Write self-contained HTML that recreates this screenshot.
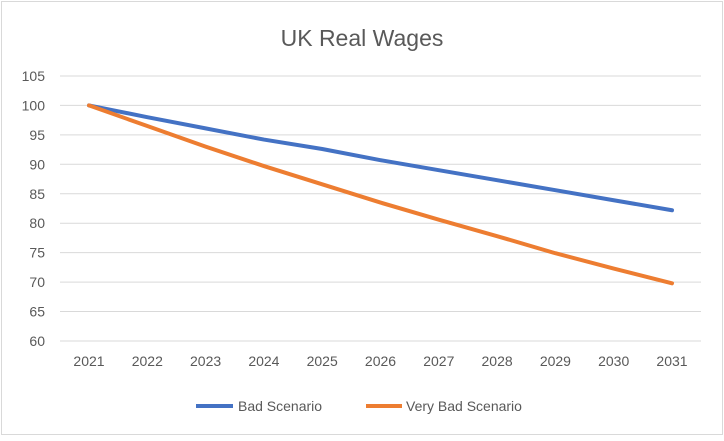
<!DOCTYPE html>
<html><head><meta charset="utf-8"><style>
body{margin:0;background:#fff;}
svg text{font-family:"Liberation Sans",sans-serif;fill:#595959;}
</style></head><body>
<svg id="chart" width="724" height="436" xmlns="http://www.w3.org/2000/svg">
<rect x="1.5" y="1.5" width="721" height="433" fill="#fff" stroke="#d9d9d9"/>
<text x="362" y="46" font-size="23" text-anchor="middle">UK Real Wages</text>
<g id="grid"></g><g id="yticks"></g><g id="xticks"></g><g id="series"></g>
<g>
<line x1="196" y1="406" x2="233" y2="406" stroke="#4472C4" stroke-width="4"/>
<text x="238" y="411" font-size="14">Bad Scenario</text>
<line x1="366" y1="406" x2="402" y2="406" stroke="#ED7D31" stroke-width="4"/>
<text x="406" y="411" font-size="14">Very Bad Scenario</text>
</g>
</svg>
<script>
const years=["2021","2022","2023","2024","2025","2026","2027","2028","2029","2030","2031"];
const badScenario=[100,98,96.1,94.2,92.6,90.7,89,87.3,85.6,83.9,82.2];
const veryBadScenario=[100,96.5,93,89.7,86.6,83.5,80.6,77.8,74.9,72.3,69.8];
const yTicks=[60,65,70,75,80,85,90,95,100,105];
const NS="http://www.w3.org/2000/svg";
const x0=89,dx=58.3,yBase=341,yPer=5.89;
const xs=i=>x0+i*dx, ys=v=>yBase-(v-60)*yPer;
function mk(t,a,p){const e=document.createElementNS(NS,t);for(const k in a)e.setAttribute(k,a[k]);document.getElementById(p).appendChild(e);return e;}
yTicks.forEach(v=>{
 const g=mk('line',{x1:60,x2:701,y1:ys(v),y2:ys(v),stroke:'#d9d9d9','stroke-width':1},'grid');
 
 
 const t=mk('text',{x:45,y:ys(v)+5,'font-size':14,'text-anchor':'end'},'yticks');
 t.textContent=v;
 
 
});
years.forEach((y,i)=>{
 const t=mk('text',{x:xs(i),y:366,'font-size':14,'text-anchor':'middle'},'xticks');
 t.textContent=y;
 
 
});
[[badScenario,'#4472C4','bad-scenario-line'],[veryBadScenario,'#ED7D31','very-bad-scenario-line']].forEach(([d,c,n])=>{
 const p=mk('polyline',{points:d.map((v,i)=>xs(i)+','+ys(v)).join(' '),fill:'none',stroke:c,'stroke-width':4,'stroke-linejoin':'round','stroke-linecap':'round'},'series');
 
 
});
</script>
</body></html>
